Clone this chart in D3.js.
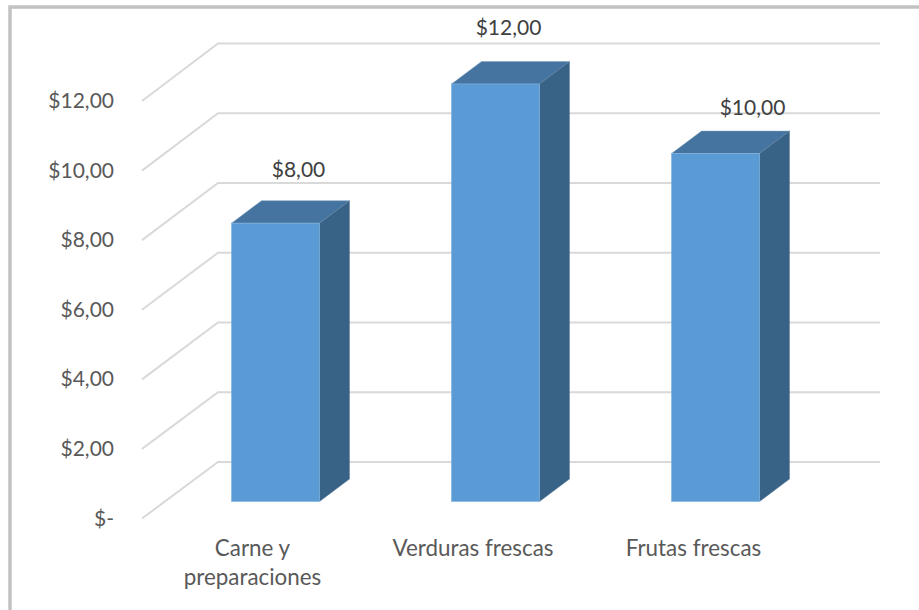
<!DOCTYPE html>
<html><head><meta charset="utf-8">
<script src="https://cdn.jsdelivr.net/npm/d3@7/dist/d3.min.js"></script>
<style>html,body{margin:0;padding:0;background:#fff}svg{display:block}text{font-family:Lato,Carlito,sans-serif}</style>
</head><body><svg id="c" width="919" height="610"></svg>
<script>
const categories = [["Carne y","preparaciones"],["Verduras frescas"],["Frutas frescas"]];
const values = [8,12,10];
const valueLabels = ["$8,00","$12,00","$10,00"];
const ticks = [0,2,4,6,8,10,12];
const tickLabels = ["$-","$2,00","$4,00","$6,00","$8,00","$10,00","$12,00"];

const svg = d3.select("#c");
const y = d3.scaleLinear().domain([0,12]).range([501.5,84]);
const frontY = d3.scaleLinear().domain([0,12]).range([518.5,101]);
const backY = d3.scaleLinear().domain([0,12]).range([462,43.5]);
const x = d3.scaleBand().domain([0,1,2]).range([231.5,759.5]).paddingInner(1-88/220);
const bw = x.bandwidth(), dx = 30, dy = 22.5;

svg.append("path").attr("d","M10,610V7H919").attr("fill","none").attr("stroke","#c2c2c2").attr("stroke-width",3.5);

const g = svg.append("g").attr("fill","none").attr("stroke","#d9d9d9").attr("stroke-width",2);
ticks.forEach(t=>{
  g.append("path").attr("d",`M142,${frontY(t)}L218,${backY(t)}H880`);
});

svg.selectAll(".tick").data(ticks).join("text").attr("class","tick").attr("x",114).attr("y",t=>frontY(t)+7)
  .attr("text-anchor","end").attr("font-size",21).attr("fill","#595959").text((t,i)=>tickLabels[i]);

const labelDx = [67,57,81], labelDy = [46.5,49,39];
const catDx = [21,21.5,22];
values.forEach((v,i)=>{
  const l=x(i), r=l+bw, t=y(v), b=y(0);
  svg.append("path").attr("d",`M${l},${t}L${l+dx},${t-dy}H${r+dx}L${r},${t}Z`).attr("fill","#44749f").attr("stroke","#7f9fbd").attr("stroke-width",.5);
  svg.append("path").attr("d",`M${r},${t}L${r+dx},${t-dy}V${b-dy}L${r},${b}Z`).attr("fill","#386286").attr("stroke","#5b7d9b").attr("stroke-width",.5);
  svg.append("rect").attr("x",l).attr("y",t).attr("width",bw).attr("height",b-t).attr("fill","#5b9bd5").attr("stroke","#7fb1de").attr("stroke-width",.6);
  svg.append("text").attr("x",l+labelDx[i]).attr("y",t-labelDy[i]).attr("text-anchor","middle").attr("font-size",21).attr("fill","#404040").text(valueLabels[i]);
  const tx=svg.append("text").attr("text-anchor","middle").attr("font-size",22.4).attr("fill","#595959");
  categories[i].forEach((s,j)=>tx.append("tspan").attr("x",l+catDx[i]).attr("y",556+j*29).text(s));
});
</script></body></html>
